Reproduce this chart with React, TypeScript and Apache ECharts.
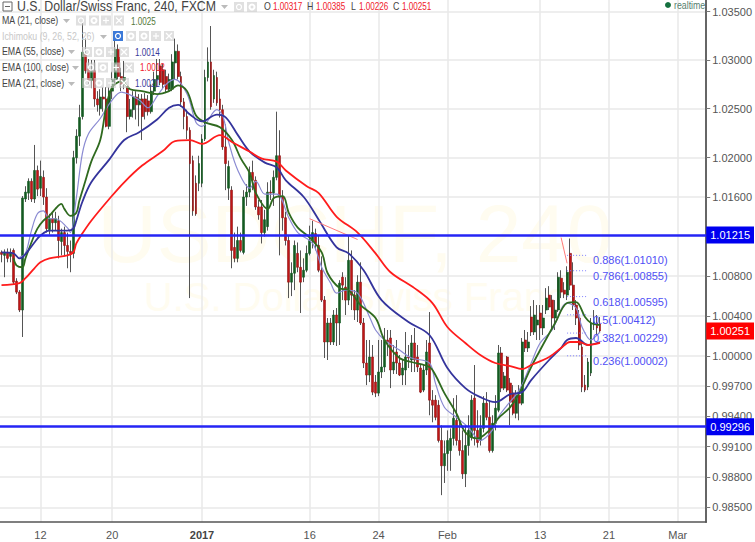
import React, { useEffect, useRef } from "react";
import * as echarts from "echarts";

// Candles in pips from parity: [open, close, low, high]
const decBars = [
[104,102,94,106],[101,104,79,107],[104,98,94,108],[100,104,94,108],[106,74,72,108],[75,64,62,78],[64,46,44,66],[46,159,19,161],[158,165,155,171],[164,176,157,179],
[176,158,155,179],[158,187,154,213],[187,168,161,192],[169,181,161,197],[180,160,152,187],[160,128,124,169],[127,138,122,143],[138,134,124,145],[134,138,126,145],[136,116,98,141],
[115,124,101,128],[124,111,100,130],[111,105,88,124],[105,103,84,116],[103,200,98,207],[200,222,194,229],[222,241,212,254],[242,308,239,339],[306,289,286,322],[291,279,274,301],
[279,289,271,300],[289,260,252,300],[260,254,247,268],[250,262,243,270],[262,260,247,272],[260,232,231,272],[232,268,229,272],[268,280,260,288],[280,311,276,322],[311,283,280,316],
[283,275,268,292],[275,282,270,299],[273,242,226,275],[242,249,239,260],[249,262,241,268],[262,254,239,268],[254,260,232,265],[260,242,218,265],[260,247,239,266],[258,247,243,264],
[247,268,245,275],[268,280,264,288],[280,284,272,301],[294,277,274,301],[290,275,270,296],[283,270,266,290],[270,280,268,286],[270,298,268,306],[297,309,280,322],[309,283,280,316],
[283,257,252,288],[257,242,229,261],[242,228,219,249],[228,194,58,231],[197,146,141,202],[174,143,141,182],[174,194,166,202],
];
const janBars = [
[174,219,170,224],[219,282,217,290],[282,298,278,313],[298,252,249,335],[260,284,256,290],[282,256,253,288],[260,249,241,270],[249,211,208,254],[211,194,167,234],[169,191,157,197],
[167,106,88,171],[109,98,94,124],[98,116,94,130],[116,106,104,124],[104,160,102,167],[160,165,151,173],[165,185,160,191],[185,177,167,197],[177,150,147,181],[150,142,137,157],
[150,124,113,157],[124,137,120,147],[130,165,126,175],[165,164,157,177],[164,180,151,187],[180,202,177,247],[202,160,101,228],[160,139,126,167],[139,116,111,145],[116,74,58,121],
[74,83,60,94],[83,111,66,116],[103,89,84,114],[89,74,43,106],[79,86,74,98],[86,103,84,111],[103,116,101,131],[116,124,108,136],[123,113,106,128],[111,86,84,121],
[86,56,54,100],[56,14,-2,60],[14,33,-4,38],[33,14,11,38],[14,41,11,46],[41,33,10,48],[33,73,11,76],[79,71,56,84],[69,56,41,79],[56,96,51,121],
[96,61,46,106],[61,46,36,66],[46,74,34,81],[74,33,31,94],[33,-7,-12,38],[-7,-19,-29,16],[-19,-1,-26,16],[-1,-36,-39,11],[-26,-37,-41,-19],[-37,-16,-40,16],
[-16,-11,-22,16],[-11,16,-16,28],[16,14,0,26],[18,-14,-32,26],[-14,-6,-18,11],[4,-7,-18,16],[-7,-19,-20,1],[-19,-12,-29,-4],[-14,-1,-29,24],[-1,-2,-12,11],
[-4,13,-16,21],[13,-4,-16,28],[-1,-11,-16,11],[-12,-36,-37,-9],[-34,-14,-36,-9],[-14,4,-19,16],[13,-44,-59,44],[-44,-49,-66,-34],[-44,-61,-64,-39],[-49,-84,-86,-44],
[-84,-109,-138,-69],[-109,-97,-126,-84],
];
const febBars = [
[-97,-84,-114,-74],[-94,-82,-114,-72],[-82,-62,-89,-42],[-64,-84,-89,-39],[-84,-94,-99,-64],[-94,-117,-122,-74],[-117,-89,-130,-69],[-89,-74,-99,-59],[-81,-44,-84,-39],[-42,-74,-89,-9],
[-74,-86,-91,-54],[-84,-72,-89,-59],[-72,-47,-76,-40],[-47,-61,-64,-36],[-61,-94,-96,-44],[-94,-67,-96,-59],[-67,-52,-74,-39],[-54,3,-56,11],[3,-32,-36,9],[-32,-20,-34,-16],
[-1,-34,-36,0],[-27,-46,-69,-22],[-37,-57,-59,-29],[-57,-39,-62,-34],[-39,-47,-64,-29],[-47,14,-49,18],[16,8,4,26],[8,14,4,24],[39,24,20,50],[24,41,21,56],
[31,36,16,51],[43,28,16,51],[28,38,21,51],[46,58,42,68],[61,49,46,70],[56,38,26,61],[38,46,26,56],[46,79,44,84],[78,64,58,86],[66,62,58,74],
[61,84,56,90],[103,71,66,118],[71,51,46,94],[51,38,31,56],[38,11,6,46],[9,-31,-36,16],[-29,-34,-36,-19],[-31,-6,-34,-2],[-17,33,-20,38],[31,34,26,46],
[33,28,20,41],[32,25,23,39],
];

// Moving averages read at bars [bar index, pips from parity]
const ema100 = [[0,71],[6,73],[8,78],[11,88],[13,94],[16,98],[22,101],[24,104],[25,113],[27,123],[30,136],[36,158],[41,175],[47,192],[54,207],[58,217],[63,218],[67,214],[73,223],[77,216],[83,206],[87,199],[92,196],[95,187],[102,171],[106,164],[112,140],[119,124],[125,103],[130,84],[138,68],[144,53],[149,29],[155,13],[160,1],[165,-7],[170,-10],[174,-13],[177,-9],[183,-1],[187,8],[190,14],[193,14],[196,11],[200,13]];
const ema55 = [[0,104],[4,103],[6,98],[7,99],[9,106],[11,114],[13,121],[16,126],[22,126],[24,128],[25,136],[27,155],[30,175],[36,198],[41,218],[46,226],[52,239],[56,251],[59,254],[63,244],[67,237],[72,244],[75,241],[79,223],[83,206],[88,195],[92,190],[95,177],[101,160],[106,137],[112,109],[116,103],[121,86],[127,56],[136,34],[143,21],[149,-12],[155,-32],[160,-41],[165,-46],[170,-38],[174,-36],[177,-24],[183,-4],[187,8],[189,16],[192,18],[196,11],[200,14]];
const ema21 = [[4,98],[5,91],[7,89],[8,98],[10,114],[12,128],[14,136],[16,141],[18,148],[20,153],[21,148],[23,141],[25,144],[26,156],[28,176],[30,196],[33,218],[35,252],[37,272],[40,278],[43,270],[47,268],[52,265],[56,268],[59,274],[62,268],[65,243],[68,236],[73,231],[77,218],[80,199],[83,184],[85,164],[89,148],[91,159],[94,161],[96,144],[99,129],[103,119],[107,104],[109,83],[113,68],[116,66],[120,51],[125,38],[128,16],[133,-2],[137,-6],[143,-11],[145,-19],[148,-37],[152,-57],[155,-76],[159,-82],[163,-74],[165,-66],[166,-62],[170,-51],[173,-37],[177,-11],[180,6],[185,33],[189,53],[192,54],[195,39],[197,33],[200,31]];
const ma21 = [[6,99],[8,103],[10,126],[12,143],[14,146],[16,138],[18,138],[22,129],[23,124],[25,159],[27,204],[29,224],[33,240],[37,259],[40,267],[46,259],[49,251],[52,263],[55,275],[58,280],[62,265],[65,236],[67,232],[72,249],[74,242],[76,215],[79,187],[83,169],[85,176],[88,163],[92,163],[96,139],[99,124],[104,113],[107,89],[110,73],[112,63],[115,66],[119,63],[123,39],[125,26],[128,16],[133,6],[137,-2],[143,-7],[145,-27],[148,-51],[152,-61],[156,-71],[160,-84],[164,-74],[166,-61],[169,-49],[173,-34],[177,-7],[180,13],[184,26],[189,53],[192,48],[194,29],[197,16],[199,21],[200,24]];

const priceTicks = [1.035, 1.03, 1.025, 1.02, 1.016, 1.008, 1.004, 1.0, 0.997, 0.994, 0.991, 0.988, 0.985];
const dateTicks: [number, string][] = [[13,"12"],[37,"20"],[67,"2017"],[103,"16"],[126,"24"],[149,"Feb"],[180,"13"],[203,"21"],[226,"Mar"]];
const barCount = 236;
const fibLevels: [string, number][] = [["0.886",1.0101],["0.786",1.00855],["0.618",1.00595],["0.5",1.00412],["0.382",1.00229],["0.236",1.00002]];
const trend1 = [[103,138],[119,117]];
const trend2 = [[187,119],[189,93]];
const levelHigh = 1.01215;
const levelLow = 0.99296;
const lastPrice = 1.00251;
const ohlc: [string, string][] = [["O","1.00317"],["H","1.00385"],["L","1.00226"],["C","1.00251"]];

const FONT = "'Liberation Sans', Arial, sans-serif";
const pipLn = (p: number) => Math.log(1 + p / 10000);
const cats = Array.from({ length: barCount }, (_, i) => {
  const t = dateTicks.find((d) => d[0] === i);
  return t ? t[1] : "d" + i;
});
const tickSet = new Set(dateTicks.map((d) => d[0]));

function lineSeries(pts: number[][], color: string, width: number) {
  return {
    type: "line", symbol: "none", smooth: 0.35, silent: true,
    data: pts.map(([i, p]) => [i, pipLn(p)]),
    lineStyle: { color, width },
  };
}
function tag(text: string, value: number, bg: string, showLine: boolean) {
  return {
    yAxis: Math.log(value),
    lineStyle: showLine ? { color: "#2525f5", width: 2.5, type: "solid", opacity: 1 } : { color: "rgba(0,0,0,0)", width: 1, type: "solid", opacity: 1 },
    label: {
      show: true, position: "end", formatter: text, distance: 0, color: "#fff", backgroundColor: bg,
      fontFamily: FONT, fontSize: 11, padding: [3, 4, 3, 4],
    },
  };
}
function box(x: number, y: number, fill: string, glyph: string) {
  const kids: any[] = [
    { type: "rect", shape: { x, y, width: 10, height: 10 }, style: { fill } },
  ];
  const cx = x + 5, cy = y + 5;
  const st = { stroke: "#fff", lineWidth: 1.2 };
  if (glyph === "eye") kids.push({ type: "circle", shape: { cx, cy, r: 2.5 }, style: { fill: "none", ...st } });
  if (glyph === "gear") kids.push({ type: "ring", shape: { cx, cy, r: 3.5, r0: 1.5 }, style: { fill: "#fff" } });
  if (glyph === "plus") {
    kids.push({ type: "line", shape: { x1: cx - 3, y1: cy, x2: cx + 3, y2: cy }, style: st });
    kids.push({ type: "line", shape: { x1: cx, y1: cy - 3, x2: cx, y2: cy + 3 }, style: st });
  }
  if (glyph === "x") {
    kids.push({ type: "line", shape: { x1: cx - 3, y1: cy - 3, x2: cx + 3, y2: cy + 3 }, style: st });
    kids.push({ type: "line", shape: { x1: cx + 3, y1: cy - 3, x2: cx - 3, y2: cy + 3 }, style: st });
  }
  return kids;
}
function txt(text: string, x: number, y: number, fill: string, size = 11, scaleX = 0.8) {
  return { type: "text", z: 20, x, y, scaleX, style: { text, fill, font: `${size}px ${FONT}`, textVerticalAlign: "middle" } };
}
function caret(x: number, y: number, fill = "#bbb") {
  return { type: "polygon", z: 20, shape: { points: [[x, y], [x + 7, y], [x + 3.5, y + 4]] }, style: { fill } };
}

const LG = "rgba(205,205,205,0.62)";
const VS = 0.74;
const graphics: any[] = [
  { type: "text", z: -1, x: 355, y: 233, style: { text: "USDCHF, 240", fill: "#fffcf0", font: `82px ${FONT}`, textAlign: "center", textVerticalAlign: "middle" } },
  { type: "text", z: -1, x: 355, y: 297, style: { text: "U.S. Dollar/Swiss Franc", fill: "#fffcf0", font: `40px ${FONT}`, textAlign: "center", textVerticalAlign: "middle" } },
  // header
  { type: "rect", z: 20, shape: { x: 3, y: 2, width: 9, height: 9 }, style: { fill: "#fff", stroke: "#666", lineWidth: 1 } },
  { type: "line", z: 20, shape: { x1: 5, y1: 6.5, x2: 10, y2: 6.5 }, style: { stroke: "#666", lineWidth: 1 } },
  txt("U.S. Dollar/Swiss Franc, 240, FXCM", 17, 6.5, "#444", 14, 0.88),
  caret(221, 5),
  txt(ohlc[0][0], 264, 6.5, "#444", 11, 0.8), txt(ohlc[0][1], 273, 6.5, "#f01a2a", 11, VS),
  txt(ohlc[1][0], 307, 6.5, "#444", 11, 0.8), txt(ohlc[1][1], 316, 6.5, "#f01a2a", 11, VS),
  txt(ohlc[2][0], 351, 6.5, "#444", 11, 0.8), txt(ohlc[2][1], 359, 6.5, "#f01a2a", 11, VS),
  txt(ohlc[3][0], 393, 6.5, "#444", 11, 0.8), txt(ohlc[3][1], 402, 6.5, "#f01a2a", 11, VS),
  { type: "circle", z: 20, shape: { cx: 668, cy: 5, r: 3 }, style: { fill: "#14703f" } },
  txt("realtime", 674, 5, "#55806e", 10, 0.88),
  // legend rows
  txt("MA (21, close)", 2, 20.5, "#444"), caret(63, 19), txt("1.0025", 131, 21, "#55793a", 11, VS),
  txt("Ichimoku (9, 26, 52, 26)", 2, 36, "#c8c8c8"), caret(100, 35),
  txt("EMA (55, close)", 2, 51.5, "#444"), caret(68, 50), txt("1.0014", 135, 52, "#3a3a9a", 11, VS),
  txt("EMA (100, close)", 2, 67, "#444"), caret(72, 66), txt("1.0012", 140, 67.5, "#f01a2a", 11, VS),
  txt("EMA (21, close)", 2, 83, "#444"), caret(68, 82), txt("1.0021", 135, 83, "#3a3a9a", 11, VS),
  ...[["eye",234,2],["gear",247,2],
      ["eye",76,15.5],["gear",89,15.5],["plus",101,15.5],["x",114,15.5],
      ["gear",126,31],["gear",139,31],["plus",151,31],["x",164,31],
      ["eye",82,47],["gear",94,47],["plus",106,47],["x",119,47],
      ["eye",86,62.5],["gear",98,62.5],["plus",111,62.5],["x",124,62.5],
      ["eye",82,78],["gear",94,78],["plus",106,78],["x",119,78]].flatMap(([g,x,y]) => box(x as number, y as number, LG, g as string)).map((k) => ({ ...k, z: 19 })),
  ...box(113, 31, "#3b79d8", "eye").map((k) => ({ ...k, z: 19 })),
];

export default function App() {
  const ref = useRef<HTMLDivElement>(null);
  useEffect(() => {
    const chart = echarts.init(ref.current!, undefined, { renderer: "svg" });
    const allBars = [...decBars, ...janBars, ...febBars];
    const wick = allBars.map((b) => b.map(pipLn));
    const body = allBars.map(([o, c]) => [pipLn(o), pipLn(c), pipLn(Math.min(o, c)), pipLn(Math.max(o, c))]);
    const fibSeries = fibLevels.map(([name, v]) => ({
      type: "line", symbol: "none", silent: true,
      data: [[189, Math.log(v)], [196, Math.log(v)]],
      lineStyle: { color: "#8080ff", width: 1, type: [1, 2] },
      endLabel: {
        show: true, formatter: `${name}(${v.toFixed(5)})`, color: "#5050f5",
        fontFamily: FONT, fontSize: 11, offset: [2, 5], distance: 3,
      },
    }));
    chart.setOption({
      animation: false,
      backgroundColor: "#fff",
      grid: { left: 0, top: 0, width: 709, height: 522, containLabel: false },
      graphic: graphics,
      xAxis: {
        type: "category", data: cats, boundaryGap: true,
        axisLine: { onZero: false, lineStyle: { color: "#555", width: 1.5 } },
        axisTick: { alignWithLabel: true, interval: (i: number) => tickSet.has(i), length: 4, lineStyle: { color: "#777" } },
        axisLabel: {
          interval: (i: number) => tickSet.has(i), color: "#555", fontFamily: FONT, fontSize: 11, margin: 7,
          formatter: (v: string) => (v === "2017" ? "{b|2017}" : v),
          rich: { b: { fontWeight: "bold", color: "#444", fontFamily: FONT, fontSize: 11 } },
        },
        splitLine: { show: true, alignWithLabel: true, interval: (i: number) => tickSet.has(i), lineStyle: { color: "#e8e8e8", width: 1.5 } },
      },
      yAxis: {
        type: "value", position: "right", scale: true,
        min: -0.016577, max: 0.03555,
        axisLine: { show: true, lineStyle: { color: "#666", width: 2 } },
        axisTick: { show: true, length: 4, customValues: priceTicks.map(Math.log), lineStyle: { color: "#777" } },
        axisLabel: {
          customValues: priceTicks.map(Math.log), color: "#555", fontFamily: FONT, fontSize: 11, margin: 6,
          formatter: (v: number) => Math.exp(v).toFixed(5),
        },
        splitLine: { show: true, lineStyle: { color: "#e8e8e8", width: 1.5 } },
      },
      series: [
        {
          type: "candlestick", data: wick, barWidth: 1, silent: true,
          itemStyle: { color: "#555", color0: "#555", borderColor: "#555", borderColor0: "#555", borderWidth: 1 },
        },
        {
          type: "candlestick", data: body, barWidth: 2.4, silent: true,
          itemStyle: { color: "#145a22", color0: "#c01515", borderColor: "#145a22", borderColor0: "#8f1515", borderWidth: 0.6 },
        },
        lineSeries(ma21, "#8a8ad2", 1.2),
        lineSeries(ema21, "#2f6a1f", 1.8),
        lineSeries(ema55, "#34349c", 1.8),
        lineSeries(ema100, "#ff1c1c", 1.8),
        { type: "line", symbol: "none", silent: true, data: trend1.map(([i, p]) => [i, pipLn(p)]), lineStyle: { color: "#ff7a7a", width: 1 } },
        { type: "line", symbol: "none", silent: true, data: trend2.map(([i, p]) => [i, pipLn(p)]), lineStyle: { color: "#ff7a7a", width: 1 } },
        ...fibSeries,
        {
          type: "line", data: [], silent: true,
          markLine: {
            silent: true, symbol: "none", precision: 8,
            data: [
              tag("1.01215", levelHigh, "#0000f0", true),
              tag("0.99296", levelLow, "#0000f0", true),
              tag("1.00251", lastPrice, "#ff0000", false),
            ],
          },
        },
      ],
    });
    return () => chart.dispose();
  }, []);
  return <div ref={ref} style={{ position: "fixed", left: 0, top: 0, width: 755, height: 542 }} />;
}
